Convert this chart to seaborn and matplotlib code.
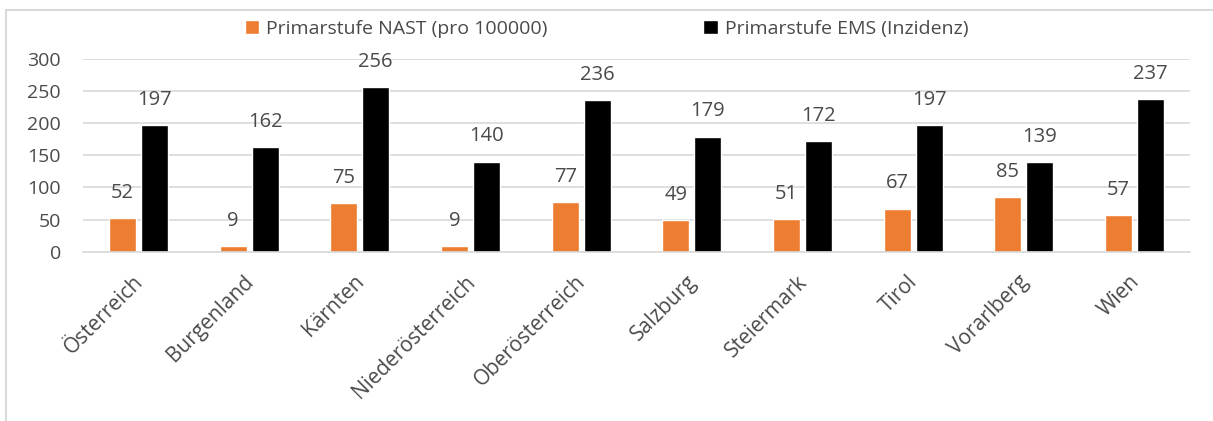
import matplotlib
matplotlib.use("Agg")
import matplotlib.pyplot as plt
import matplotlib.transforms as mtransforms
import seaborn as sns
import pandas as pd
from matplotlib.patches import Rectangle, Patch

categories = ["Österreich", "Burgenland", "Kärnten", "Niederösterreich", "Oberösterreich",
              "Salzburg", "Steiermark", "Tirol", "Vorarlberg", "Wien"]
nast = [52, 9, 75, 9, 77, 49, 51, 67, 85, 57]
ems = [197, 162, 256, 140, 236, 179, 172, 197, 139, 237]
series = ["Primarstufe NAST (pro 100000)", "Primarstufe EMS (Inzidenz)"]
yticks = [0, 50, 100, 150, 200, 250, 300]

df = pd.DataFrame({
    "Region": categories * 2,
    "Wert": nast + ems,
    "Serie": [series[0]] * len(categories) + [series[1]] * len(categories),
})

sns.set_theme(style="white")
plt.rcParams["font.family"] = ["Open Sans", "DejaVu Sans"]
txt = "#4a4a4a"

fig = plt.figure(figsize=(12.13, 4.21), dpi=100)
ax = fig.add_axes([83 / 1213, 1 - 251.7 / 421, (1190 - 83) / 1213, (251.7 - 58.7) / 421])

sns.barplot(data=df, x="Region", y="Wert", hue="Serie", order=categories, hue_order=series,
            palette=["#ED7D31", "#000000"], width=0.578, gap=0.156, saturation=1,
            ax=ax, legend=False)

for cont in ax.containers:
    ax.bar_label(cont, padding=11, fontsize=14.5, color=txt)

ax.set_ylim(0, 300)
ax.set_yticks(yticks)
ax.set_xlim(-0.5, len(categories) - 0.5)
ax.yaxis.grid(True, color="#D9D9D9", linewidth=1.2)
ax.set_axisbelow(True)
for s in ["top", "right", "left"]:
    ax.spines[s].set_visible(False)
ax.spines["bottom"].set_color("#D9D9D9")
ax.spines["bottom"].set_linewidth(1.2)
ax.set_xlabel("")
ax.set_ylabel("")
ax.tick_params(axis="both", length=0, labelsize=14, colors=txt)
ax.tick_params(axis="y", pad=16)
ax.tick_params(axis="x", pad=14, labelsize=15)
offset = mtransforms.ScaledTranslation(-6 / 100, 0, fig.dpi_scale_trans)
for lab in ax.get_xticklabels():
    lab.set_rotation(45)
    lab.set_ha("right")
    lab.set_va("top")
    lab.set_rotation_mode("anchor")
    lab.set_transform(lab.get_transform() + offset)

handles = [Patch(facecolor="#ED7D31"), Patch(facecolor="#000000")]
fig.legend(handles, series, loc="center", bbox_to_anchor=(0.5, 1 - 29 / 421), ncol=2,
           frameon=False, fontsize=14, labelcolor=txt, handlelength=0.75, handleheight=0.75,
           handletextpad=0.35, columnspacing=8)

fig.add_artist(Rectangle((6 / 1213, -0.1), 1.2, 1 - 10 / 421 + 0.1, transform=fig.transFigure,
                         fill=False, edgecolor="#D9D9D9", linewidth=1.5))

fig.savefig("out.png", dpi=100)
